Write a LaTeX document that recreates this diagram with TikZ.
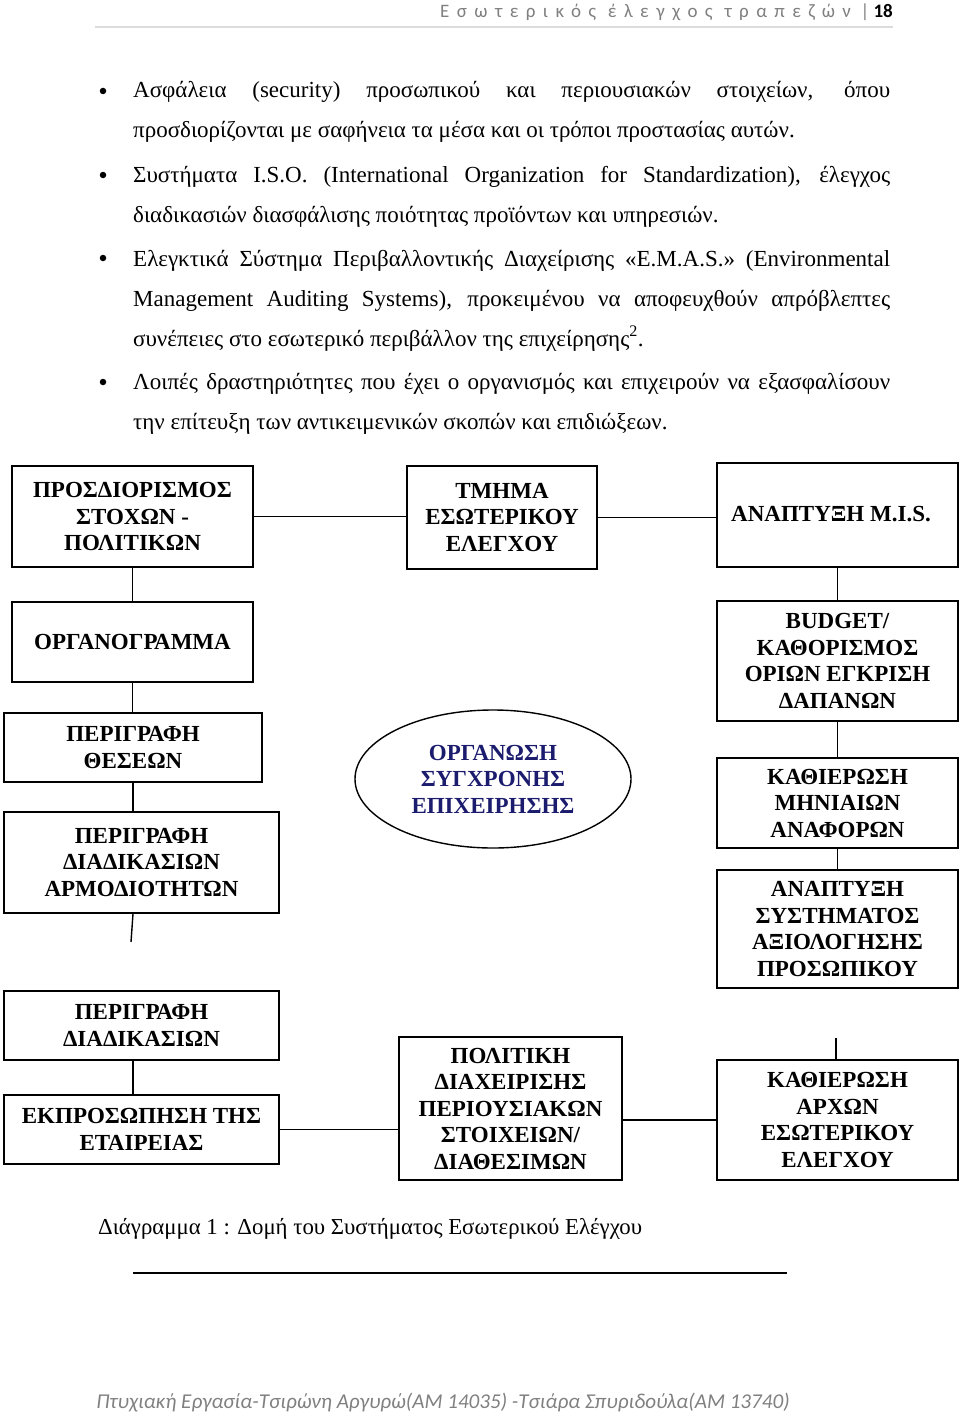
\documentclass[tikz,border=0pt]{standalone}
\usepackage{fontspec}
\setmainfont{Liberation Serif}
\newfontfamily\carlito{Carlito}
\newfontfamily\hdrfont[LetterSpace=39]{Carlito}
\usetikzlibrary{shapes.geometric}
\definecolor{navy}{RGB}{28,28,110}
\definecolor{hgray}{RGB}{128,128,128}
\definecolor{rulegray}{RGB}{220,220,220}
\begin{document}
\begin{tikzpicture}[x=1pt,y=-1pt,
  box/.style={draw, line width=1.6pt, inner sep=0pt, align=center,
    font=\fontsize{23}{26.5}\selectfont\bfseries},
  conn/.style={line width=1.4pt},
  body/.style={anchor=base west, inner sep=0pt, font=\fontsize{23}{28}\selectfont},
  bul/.style={circle, fill=black, inner sep=0pt, minimum size=6.5pt}]
\useasboundingbox (0,0) rectangle (960,1418);

% header
\node[anchor=base west, inner sep=0pt, font=\hdrfont\fontsize{19}{22}\selectfont, text=hgray] (hdr) at (440,18) {Εσωτερικός έλεγχος τραπεζών};
\node[anchor=base east, inner sep=0pt, font=\carlito\fontsize{19}{22}\selectfont] (pg) at (893,18) {\textcolor{hgray}{|} \textbf{18}};
\draw[rulegray, line width=2pt] (95,27) -- (893,27);

% bullets text
\def\W{757pt}
\node[bul] (k1) at (103,91) {};
\node[body] (l1) at (133,98) {\makebox[\W][s]{Ασφάλεια (security) προσωπικού και περιουσιακών στοιχείων, όπου}};
\node[body] (l2) at (133,138) {προσδιορίζονται με σαφήνεια τα μέσα και οι τρόποι προστασίας αυτών.};
\node[bul] (k2) at (103,175) {};
\node[body] (l3) at (133,182) {\makebox[\W][s]{Συστήματα I.S.O. (International Organization for Standardization), έλεγχος}};
\node[body] (l4) at (133,222) {διαδικασιών διασφάλισης ποιότητας προϊόντων και υπηρεσιών.};
\node[bul] (k3) at (103,258) {};
\node[body] (l5) at (133,266) {\makebox[\W][s]{Ελεγκτικά Σύστημα Περιβαλλοντικής Διαχείρισης «E.M.A.S.» (Environmental}};
\node[body] (l6) at (133,306) {\makebox[\W][s]{Management Auditing Systems), προκειμένου να αποφευχθούν απρόβλεπτες}};
\node[body] (l7) at (133,346) {συνέπειες στο εσωτερικό περιβάλλον της επιχείρησης\textsuperscript{2}.};
\node[bul] (k4) at (103,382) {};
\node[body] (l8) at (133,389) {\makebox[\W][s]{Λοιπές δραστηριότητες που έχει ο οργανισμός και επιχειρούν να εξασφαλίσουν}};
\node[body] (l9) at (133,429) {την επίτευξη των αντικειμενικών σκοπών και επιδιώξεων.};

% top row
\node[box, minimum width=241pt, minimum height=101pt] (b1) at (132.5,516.5) {ΠΡΟΣΔΙΟΡΙΣΜΟΣ\\ΣΤΟΧΩΝ -\\ΠΟΛΙΤΙΚΩΝ};
\node[box, minimum width=190pt, minimum height=103pt] (b2) at (502,517.5) {ΤΜΗΜΑ\\ΕΣΩΤΕΡΙΚΟΥ\\ΕΛΕΓΧΟΥ};
\node[box, minimum width=241pt, minimum height=104pt] (b3) at (837.5,515) {};
\node[anchor=base, inner sep=0pt, font=\fontsize{23}{26.5}\selectfont\bfseries] (b3t) at (831,521) {ΑΝΑΠΤΥΞΗ M.I.S.};

% left column
\node[box, minimum width=241pt, minimum height=80pt] (org) at (132.5,642) {ΟΡΓΑΝΟΓΡΑΜΜΑ};
\node[box, minimum width=258pt, minimum height=69pt] (thes) at (133,747.5) {ΠΕΡΙΓΡΑΦΗ\\ΘΕΣΕΩΝ};
\node[box, minimum width=275pt, minimum height=101pt] (harm) at (141.5,862.5) {ΠΕΡΙΓΡΑΦΗ\\ΔΙΑΔΙΚΑΣΙΩΝ\\ΑΡΜΟΔΙΟΤΗΤΩΝ};
\node[box, minimum width=275pt, minimum height=69pt] (pd) at (141.5,1025.5) {ΠΕΡΙΓΡΑΦΗ\\ΔΙΑΔΙΚΑΣΙΩΝ};
\node[box, minimum width=275pt, minimum height=69pt] (ekp) at (141.5,1129.5) {ΕΚΠΡΟΣΩΠΗΣΗ ΤΗΣ\\ΕΤΑΙΡΕΙΑΣ};
\coordinate (d1) at (131,942);

% middle
\node[draw, ellipse, line width=1.4pt, inner sep=0pt, minimum width=276pt, minimum height=138pt, align=center, text=navy,
  font=\fontsize{23}{26.5}\selectfont\bfseries] (ell) at (493,779) {ΟΡΓΑΝΩΣΗ\\ΣΥΓΧΡΟΝΗΣ\\ΕΠΙΧΕΙΡΗΣΗΣ};
\node[box, minimum width=223pt, minimum height=143pt] (pol) at (510.5,1108.5) {ΠΟΛΙΤΙΚΗ\\ΔΙΑΧΕΙΡΙΣΗΣ\\ΠΕΡΙΟΥΣΙΑΚΩΝ\\ΣΤΟΙΧΕΙΩΝ/\\ΔΙΑΘΕΣΙΜΩΝ};

% right column
\node[box, minimum width=241pt, minimum height=120pt] (bud) at (837.5,661) {BUDGET/\\ΚΑΘΟΡΙΣΜΟΣ\\ΟΡΙΩΝ ΕΓΚΡΙΣΗ\\ΔΑΠΑΝΩΝ};
\node[box, minimum width=241pt, minimum height=90pt] (mhn) at (837.5,803) {ΚΑΘΙΕΡΩΣΗ\\ΜΗΝΙΑΙΩΝ\\ΑΝΑΦΟΡΩΝ};
\node[box, minimum width=241pt, minimum height=118pt] (axi) at (837.5,929) {ΑΝΑΠΤΥΞΗ\\ΣΥΣΤΗΜΑΤΟΣ\\ΑΞΙΟΛΟΓΗΣΗΣ\\ΠΡΟΣΩΠΙΚΟΥ};
\node[box, minimum width=241pt, minimum height=120pt] (arx) at (837.5,1120) {ΚΑΘΙΕΡΩΣΗ\\ΑΡΧΩΝ\\ΕΣΩΤΕΡΙΚΟΥ\\ΕΛΕΓΧΟΥ};
\coordinate (d2) at (836,1038);

% connectors
\draw[conn] (b1.east) -- (b1.east -| b2.west);
\draw[conn] (b2.east) -- (b2.east -| b3.west);
\draw[conn] (b1.south) -- (org.north);
\draw[conn] (b3.south) -- (bud.north);
\draw[conn] (org.south) -- (org.south |- thes.north);
\draw[conn] (thes.south) -- (thes.south |- harm.north);
\draw[conn] (thes.south |- harm.south) -- (d1);
\draw[conn] (thes.south |- pd.south) -- (thes.south |- ekp.north);
\draw[conn] (ekp.east) -- (ekp.east -| pol.west);
\draw[conn] (arx.west -| pol.east) -- (arx.west);
\draw[conn] (bud.south) -- (mhn.north);
\draw[conn] (mhn.south) -- (axi.north);
\draw[conn] (d2) -- (d2 |- arx.north);

% caption
\node[anchor=base west, inner sep=0pt, font=\fontsize{22.8}{27}\selectfont] (cap) at (98,1234) {Διάγραμμα 1 : Δομή του Συστήματος Εσωτερικού Ελέγχου};
\coordinate (u1) at (133,1273);
\coordinate (u2) at (787,1273);
\draw[line width=1.5pt] (u1) -- (u2);

% footer
\node[inner sep=0pt, font=\carlito\itshape\fontsize{21.1}{25}\selectfont, text=hgray] (foot) at (443,1403) {Πτυχιακή Εργασία-Τσιρώνη Αργυρώ(ΑΜ 14035) -Τσιάρα Σπυριδούλα(ΑΜ 13740)};
\end{tikzpicture}
\end{document}
